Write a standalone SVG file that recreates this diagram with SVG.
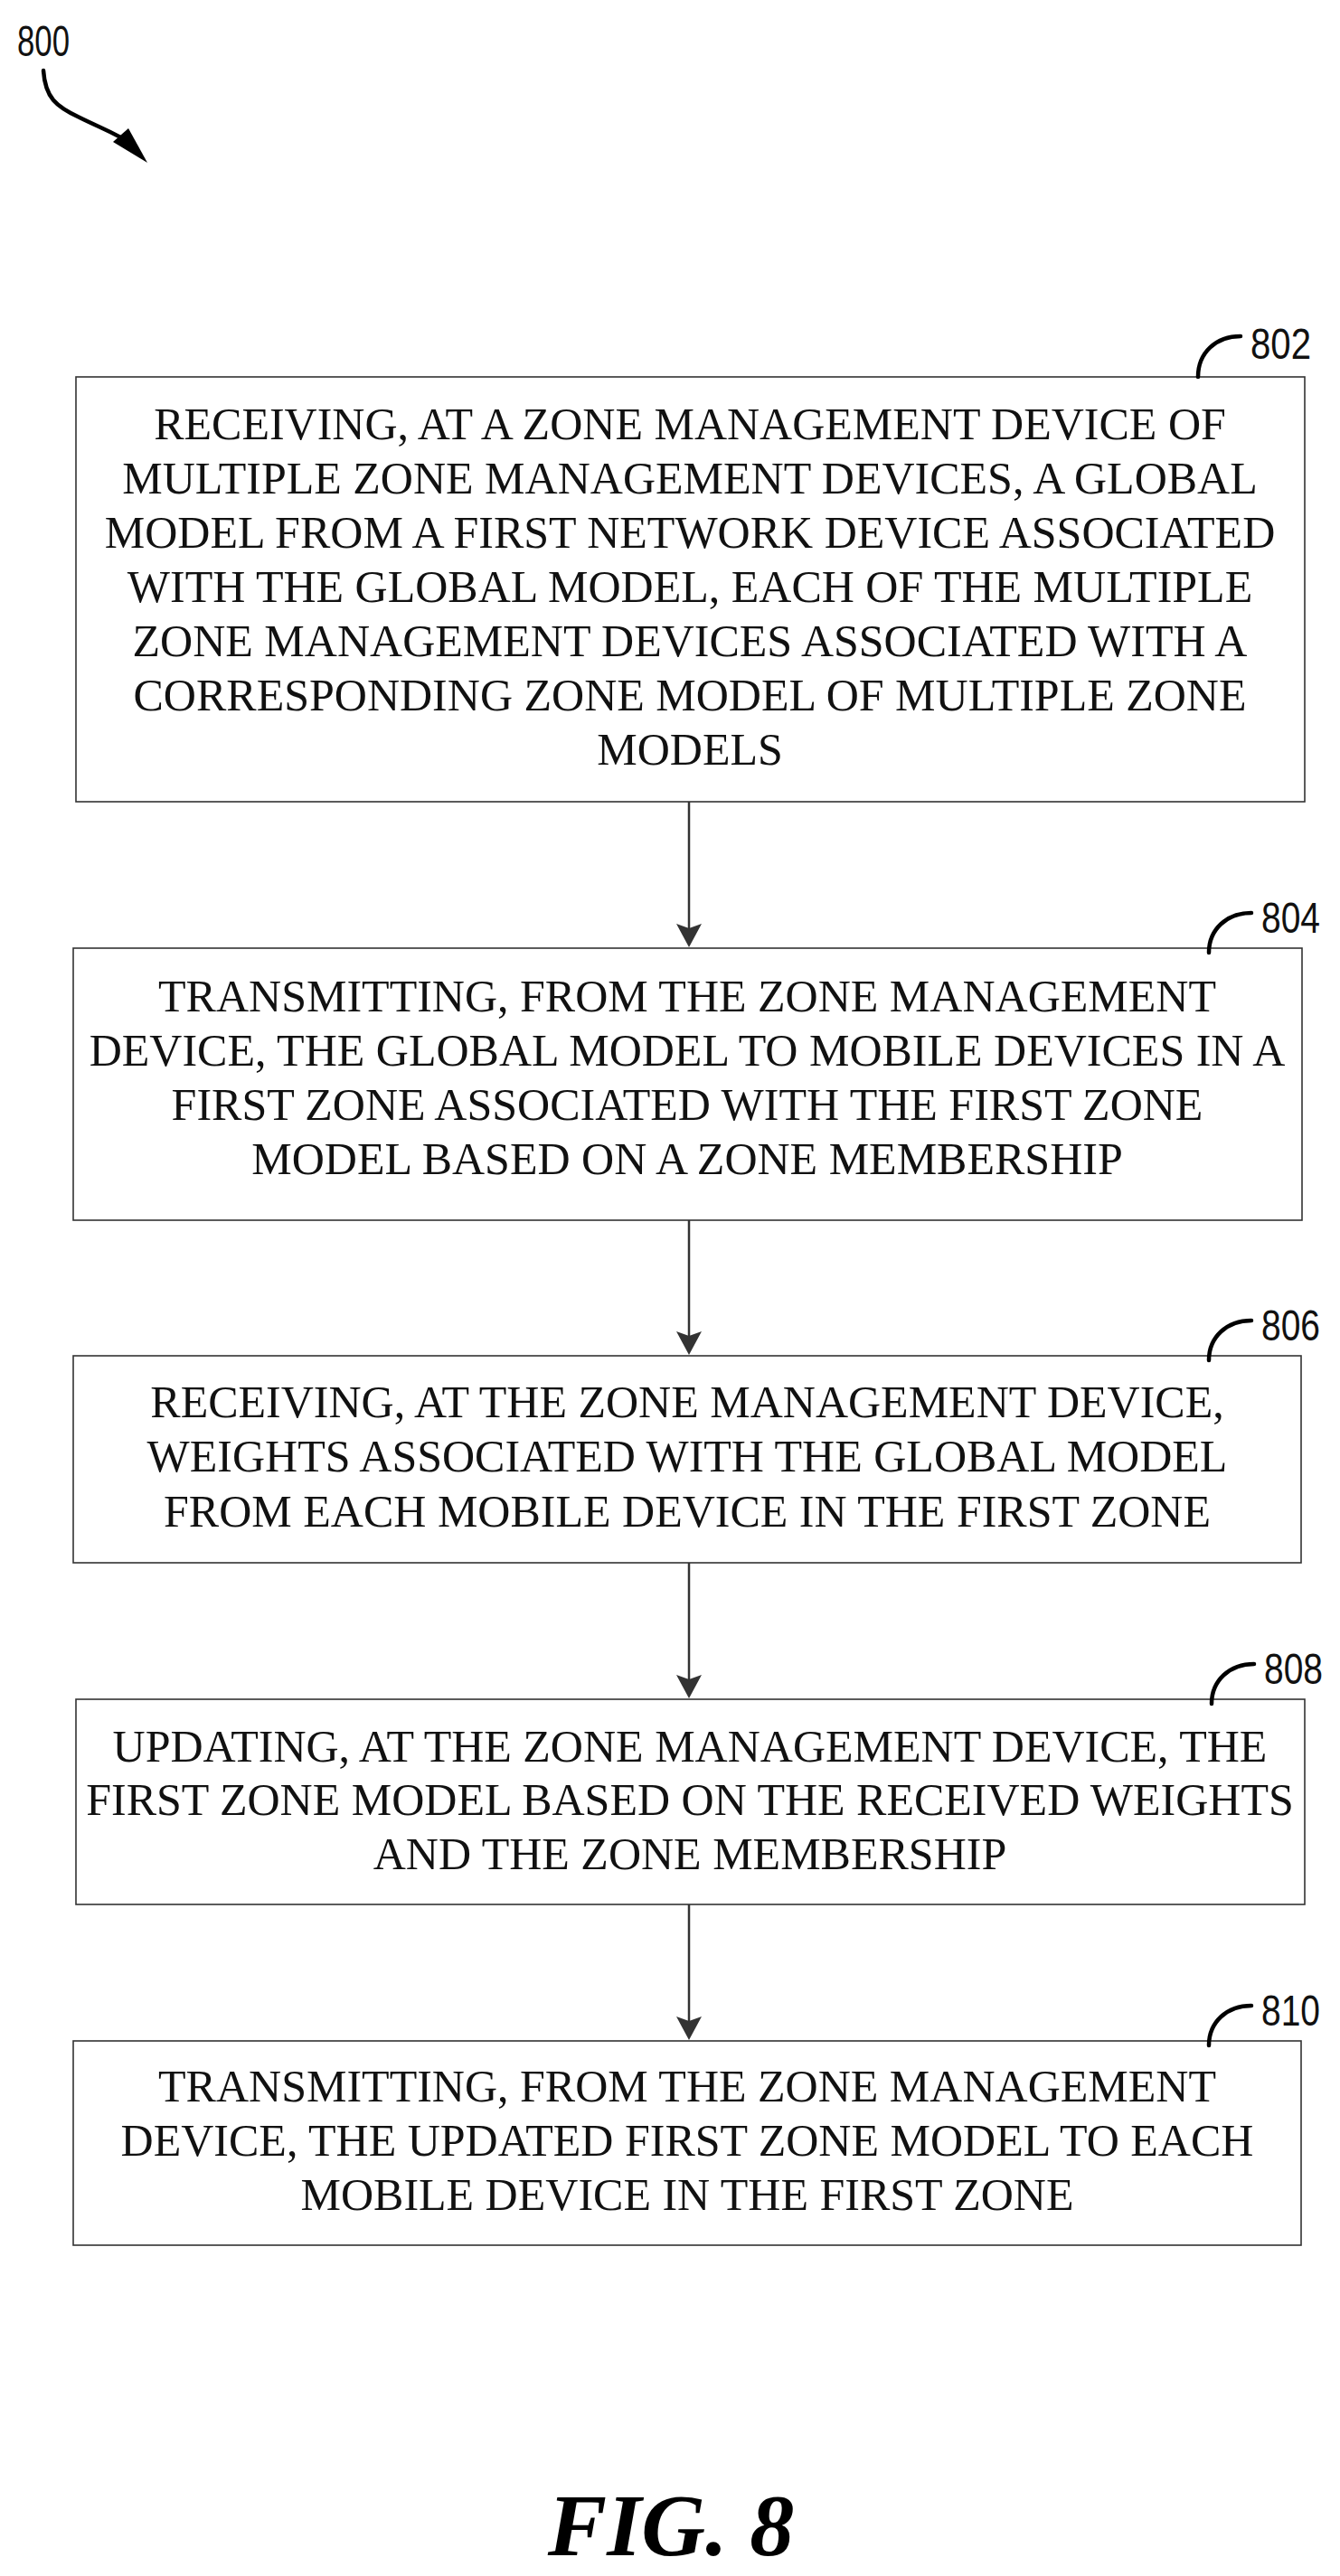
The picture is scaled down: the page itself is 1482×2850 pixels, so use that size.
<svg xmlns="http://www.w3.org/2000/svg" width="1482" height="2850" viewBox="0 0 1482 2850">
<defs>
<style>
.box{fill:#fff;stroke:#333;stroke-width:1.6}
.t{font-family:"Liberation Serif","Times New Roman",serif;font-size:50px;text-anchor:middle;fill:#111}
.lbl{font-family:"Liberation Sans Narrow","Liberation Sans",Arial,sans-serif;font-size:49px;fill:#111}
.lead{fill:none;stroke:#000;stroke-width:4.5;stroke-linecap:round}
.conn{stroke:#333;stroke-width:2.5;fill:none}
.head{fill:#333}
.fig{font-family:"Liberation Serif","Times New Roman",serif;font-size:98px;font-weight:bold;font-style:italic;fill:#000;text-anchor:middle}
</style>
</defs>
<rect width="1482" height="2850" fill="#fff"/>

<g id="ref800">
<text class="lbl" x="19" y="62" font-size="52" textLength="58" lengthAdjust="spacingAndGlyphs">800</text>
<path class="lead" d="M48,78 C50,108 62,118 88,130 C112,142 130,148 150,162" stroke-width="3.5"/>
<path d="M125,157 L142,142 L163,180 Z" fill="#000"/>
</g>

<g id="connectors">
<line class="conn" x1="762" y1="887" x2="762" y2="1030"/>
<path class="head" d="M748,1022 L762,1027 L776,1022 L762,1048 Z"/>
<line class="conn" x1="762" y1="1350" x2="762" y2="1480"/>
<path class="head" d="M748,1473 L762,1478 L776,1473 L762,1499 Z"/>
<line class="conn" x1="762" y1="1729" x2="762" y2="1860"/>
<path class="head" d="M748,1853 L762,1858 L776,1853 L762,1879 Z"/>
<line class="conn" x1="762" y1="2107" x2="762" y2="2238"/>
<path class="head" d="M748,2231 L762,2236 L776,2231 L762,2257 Z"/>
</g>

<g id="n802">
<rect class="box" x="84" y="417" width="1359" height="470"/>
<path class="lead" d="M1325,417 C1325,390 1345,372 1372,372"/>
<text class="lbl" x="1383" y="397" textLength="67" lengthAdjust="spacingAndGlyphs">802</text>
<text class="t" x="763" y="486">RECEIVING, AT A ZONE MANAGEMENT DEVICE OF</text>
<text class="t" x="763" y="546">MULTIPLE ZONE MANAGEMENT DEVICES, A GLOBAL</text>
<text class="t" x="763" y="606">MODEL FROM A FIRST NETWORK DEVICE ASSOCIATED</text>
<text class="t" x="763" y="666">WITH THE GLOBAL MODEL, EACH OF THE MULTIPLE</text>
<text class="t" x="763" y="726">ZONE MANAGEMENT DEVICES ASSOCIATED WITH A</text>
<text class="t" x="763" y="786">CORRESPONDING ZONE MODEL OF MULTIPLE ZONE</text>
<text class="t" x="763" y="846">MODELS</text>
</g>

<g id="n804">
<rect class="box" x="81" y="1049" width="1359" height="301"/>
<path class="lead" d="M1337,1054 C1337,1028 1357,1010 1384,1010"/>
<text class="lbl" x="1395" y="1032" textLength="65" lengthAdjust="spacingAndGlyphs">804</text>
<text class="t" x="760" y="1119">TRANSMITTING, FROM THE ZONE MANAGEMENT</text>
<text class="t" x="760" y="1179">DEVICE, THE GLOBAL MODEL TO MOBILE DEVICES IN A</text>
<text class="t" x="760" y="1239">FIRST ZONE ASSOCIATED WITH THE FIRST ZONE</text>
<text class="t" x="760" y="1299">MODEL BASED ON A ZONE MEMBERSHIP</text>
</g>

<g id="n806">
<rect class="box" x="81" y="1500" width="1358" height="229"/>
<path class="lead" d="M1337,1505 C1337,1479 1357,1461 1384,1461"/>
<text class="lbl" x="1395" y="1483" textLength="65" lengthAdjust="spacingAndGlyphs">806</text>
<text class="t" x="760" y="1568">RECEIVING, AT THE ZONE MANAGEMENT DEVICE,</text>
<text class="t" x="760" y="1628">WEIGHTS ASSOCIATED WITH THE GLOBAL MODEL</text>
<text class="t" x="760" y="1689">FROM EACH MOBILE DEVICE IN THE FIRST ZONE</text>
</g>

<g id="n808">
<rect class="box" x="84" y="1880" width="1359" height="227"/>
<path class="lead" d="M1340,1885 C1340,1859 1360,1841 1387,1841"/>
<text class="lbl" x="1398" y="1863" textLength="65" lengthAdjust="spacingAndGlyphs">808</text>
<text class="t" x="763" y="1949">UPDATING, AT THE ZONE MANAGEMENT DEVICE, THE</text>
<text class="t" x="763" y="2008">FIRST ZONE MODEL BASED ON THE RECEIVED WEIGHTS</text>
<text class="t" x="763" y="2068">AND THE ZONE MEMBERSHIP</text>
</g>

<g id="n810">
<rect class="box" x="81" y="2258" width="1358" height="226"/>
<path class="lead" d="M1337,2263 C1337,2237 1357,2219 1384,2219"/>
<text class="lbl" x="1395" y="2241" textLength="65" lengthAdjust="spacingAndGlyphs">810</text>
<text class="t" x="760" y="2325">TRANSMITTING, FROM THE ZONE MANAGEMENT</text>
<text class="t" x="760" y="2385">DEVICE, THE UPDATED FIRST ZONE MODEL TO EACH</text>
<text class="t" x="760" y="2445">MOBILE DEVICE IN THE FIRST ZONE</text>
</g>

<text class="fig" x="742" y="2827">FIG. 8</text>
</svg>
